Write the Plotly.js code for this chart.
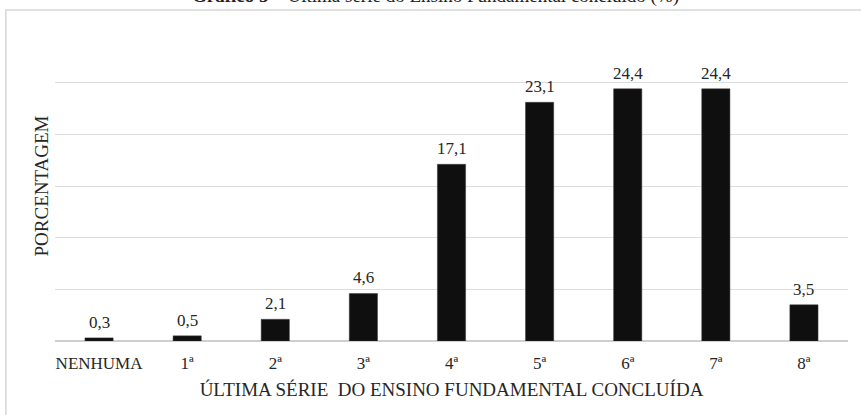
<!DOCTYPE html>
<html>
<head>
<meta charset="utf-8">
<script src="https://cdn.plot.ly/plotly-3.0.1.min.js"></script>
<style>html,body{margin:0;padding:0;background:#fff;}#chart{width:861px;height:415px;}</style>
</head>
<body>
<div id="chart"></div>
<script>
const categories = ["NENHUMA", "1ª", "2ª", "3ª", "4ª", "5ª", "6ª", "7ª", "8ª"];
const percentages = [0.3, 0.5, 2.1, 4.6, 17.1, 23.1, 24.4, 24.4, 3.5];
const chartTitle = "<b>Gráfico 5</b> – Última série do Ensino Fundamental concluído (%)";
const xTitle = "ÚLTIMA SÉRIE  DO ENSINO FUNDAMENTAL CONCLUÍDA";
const yTitle = "PORCENTAGEM";

const fmt = v => v.toFixed(1).replace('.', ',');
const serif = "Liberation Serif, Times New Roman, serif";

const trace = {
  type: 'bar',
  x: categories,
  y: percentages,
  marker: {color: '#0f0f0f', line: {color: '#3a3a3a', width: 0.5}},
  width: 0.32,
  hoverinfo: 'x+y'
};

const labelAnnotations = categories.map((c, i) => ({
  x: c, y: percentages[i], xref: 'x', yref: 'y',
  text: fmt(percentages[i]), showarrow: false,
  yanchor: 'bottom', yshift: 4,
  font: {family: serif, size: 17, color: '#262626'}
}));

const layout = {
  width: 861, height: 415,
  margin: {l: 55, r: 13, t: 31, b: 74},
  paper_bgcolor: '#fff', plot_bgcolor: '#fff',
  showlegend: false,
  xaxis: {
    type: 'category',
    showgrid: false, showline: false, zeroline: false,
    ticks: '', ticklabelstandoff: 10,
    tickfont: {family: serif, size: 17, color: '#262626'},
    title: {text: xTitle, font: {family: serif, size: 19, color: '#262626'}, standoff: 10},
    automargin: false
  },
  yaxis: {
    range: [0, 30], dtick: 5,
    showticklabels: false, ticks: '',
    showgrid: true, gridcolor: '#dedede', gridwidth: 1,
    zeroline: true, zerolinecolor: '#cfcfcf', zerolinewidth: 1.5,
    showline: false,
    title: {text: yTitle, font: {family: serif, size: 19, color: '#262626'}, standoff: 0},
    automargin: false
  },
  annotations: labelAnnotations.concat([{
    text: chartTitle, xref: 'paper', yref: 'paper', x: 0.48, y: 1.112,
    xanchor: 'center', yanchor: 'middle', showarrow: false,
    font: {family: serif, size: 19, color: '#222'}
  }]),
  shapes: [{
    type: 'rect', xref: 'paper', yref: 'paper',
    x0: -0.062, x1: 1.2, y0: -0.4, y1: 1.0677,
    line: {color: '#d6d6d6', width: 1.5}, layer: 'below'
  }]
};

Plotly.newPlot('chart', [trace], layout, {staticPlot: true, displayModeBar: false});
</script>
</body>
</html>
